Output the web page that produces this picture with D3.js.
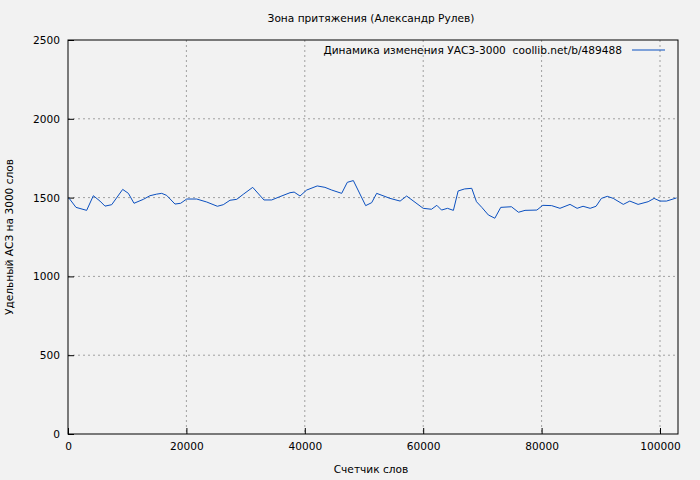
<!DOCTYPE html><html><head><meta charset="utf-8"><script src="https://cdn.jsdelivr.net/npm/d3@7"></script>
<style>body{margin:0;background:#f2f2f2}text{font-family:"DejaVu Sans",sans-serif;font-size:10.6px;fill:#000;white-space:pre}</style></head><body><svg width="700" height="480"></svg><script>
const words=[200,1350,3150,4280,5400,6250,7380,9240,10200,11150,12730,13850,14980,15830,16670,18070,19030,20050,21740,23430,25230,26230,27360,28500,29610,31200,33100,34400,35800,37500,38200,39190,40320,42100,43400,44540,46230,47180,48200,50280,51300,52140,54400,56100,57200,60000,61400,62300,63100,64100,65100,65900,67000,68200,69000,69900,71000,72100,73100,74900,76100,77200,79200,80200,81700,83100,84800,86000,87000,88200,89200,90100,91100,92100,93800,94900,96300,98000,99000,100000,101100,102800];
const values=[1495,1438,1419,1512,1478,1446,1455,1552,1527,1464,1489,1512,1522,1527,1514,1459,1464,1491,1491,1472,1445,1455,1483,1489,1521,1565,1485,1485,1506,1531,1535,1510,1548,1574,1565,1548,1527,1597,1608,1449,1468,1527,1495,1478,1510,1432,1426,1451,1421,1432,1419,1542,1555,1559,1474,1438,1390,1369,1438,1442,1407,1419,1421,1451,1449,1432,1457,1432,1445,1432,1445,1495,1508,1495,1457,1478,1457,1474,1495,1478,1478,1498];
const xTicks=[0,20000,40000,60000,80000,100000];
const yTicks=[0,500,1000,1500,2000,2500];
const svg=d3.select("svg");
const L=68,R=678,T=40,B=434;
const x=d3.scaleLinear().domain([0,103040]).range([L,R]);
const y=d3.scaleLinear().domain([0,2500]).range([B,T]);
const g=svg.append("g");
xTicks.forEach(t=>{if(t>0)g.append("line").attr("x1",x(t)).attr("x2",x(t)).attr("y1",T).attr("y2",B).attr("stroke","#a0a0a0").attr("stroke-dasharray","2,3");});
yTicks.forEach(t=>{if(t>0&&t<2500)g.append("line").attr("x1",L).attr("x2",R).attr("y1",y(t)).attr("y2",y(t)).attr("stroke","#a0a0a0").attr("stroke-dasharray","2,3");});
svg.append("g").attr("transform",`translate(0,${B})`).call(d3.axisBottom(x).tickValues(xTicks).tickFormat(d3.format("d")).tickSizeInner(-6).tickSizeOuter(0).tickPadding(8)).call(a=>{a.select(".domain").remove();a.selectAll("text").style("font-size","10.6px").style("font-family","DejaVu Sans");});
svg.append("g").attr("transform",`translate(${L},0)`).call(d3.axisLeft(y).tickValues(yTicks).tickFormat(d3.format("d")).tickSizeInner(-6).tickSizeOuter(0).tickPadding(8)).call(a=>{a.select(".domain").remove();a.selectAll("text").style("font-size","10.6px").style("font-family","DejaVu Sans");});
svg.append("rect").attr("x",L).attr("y",T).attr("width",R-L).attr("height",B-T).attr("fill","none").attr("stroke","#000");
svg.append("path").datum(words.map((w,i)=>[w,values[i]])).attr("fill","none").attr("stroke","#0b50c0").attr("stroke-width",1).attr("d",d3.line().x(d=>x(d[0])).y(d=>y(d[1])));
svg.append("text").attr("x",371).attr("y",22).attr("text-anchor","middle").text("Зона притяжения (Александр Рулев)");
svg.append("text").attr("x",371).attr("y",473).attr("text-anchor","middle").text("Счетчик слов");
svg.append("text").attr("transform","translate(13,237) rotate(-90)").attr("text-anchor","middle").text("Удельный АСЗ на 3000 слов");
svg.append("text").attr("x",622).attr("y",54).attr("text-anchor","end").text("Динамика изменения УАСЗ-3000  coollib.net/b/489488");
svg.append("line").attr("x1",632).attr("x2",665).attr("y1",50).attr("y2",50).attr("stroke","#0b50c0");
</script></body></html>
